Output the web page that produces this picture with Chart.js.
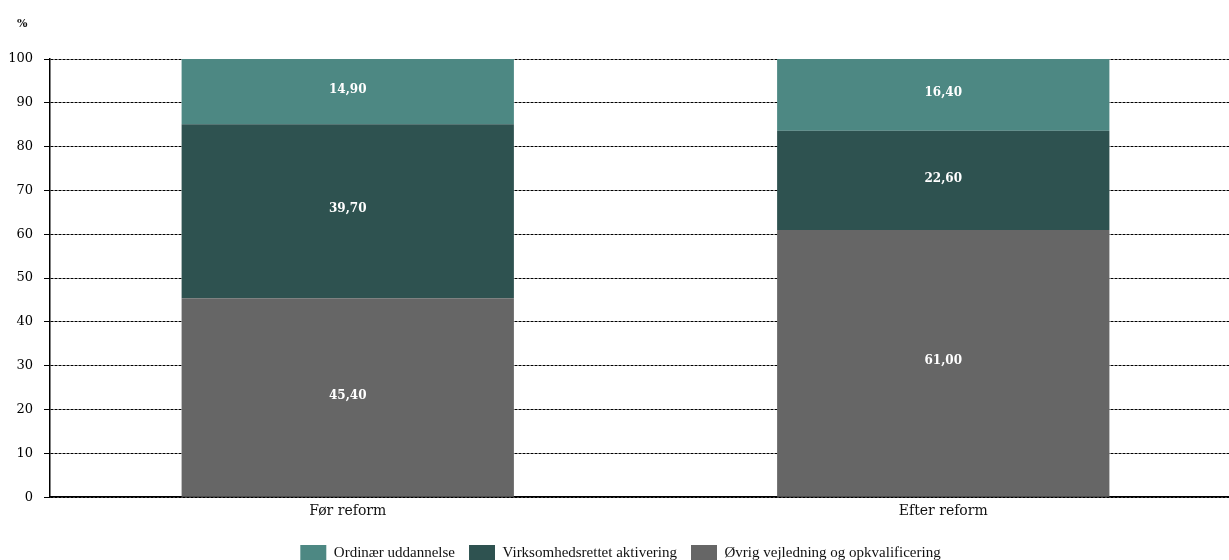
<!DOCTYPE html>
<html>
<head>
<meta charset="utf-8">
<script src="https://cdn.jsdelivr.net/npm/chart.js@4/dist/chart.umd.min.js"></script>
<style>
  html, body { margin: 0; padding: 0; background: #fff; overflow: hidden; }
  #wrap { width: 1241px; height: 560px; }
</style>
</head>
<body>
<div id="wrap"><canvas id="reformChart"></canvas></div>
<script>
const categories = ['Før reform', 'Efter reform'];
const ordinaer = [14.9, 16.4];
const virksomhed = [39.7, 22.6];
const oevrig = [45.4, 61.0];
const yTicks = [0, 10, 20, 30, 40, 50, 60, 70, 80, 90, 100];

const serif = "'DejaVu Serif', 'Liberation Serif', serif";
const legendSerif = "'Liberation Serif', 'DejaVu Serif', serif";

// white value labels in the middle of each segment, plus the unit over the y axis
const segmentLabels = {
  id: 'segmentLabels',
  afterDatasetsDraw(chart) {
    const ctx = chart.ctx;
    ctx.save();
    ctx.fillStyle = '#ffffff';
    ctx.font = 'bold 12px ' + serif;
    ctx.textAlign = 'center';
    ctx.textBaseline = 'middle';
    chart.data.datasets.forEach((ds, i) => {
      chart.getDatasetMeta(i).data.forEach((bar, j) => {
        const p = bar.getProps(['x', 'y', 'base'], true);
        ctx.fillText(ds.data[j].toFixed(2).replace('.', ','), p.x, (p.y + p.base) / 2 - 2);
      });
    });
    ctx.fillStyle = '#111';
    ctx.font = 'bold 11px ' + serif;
    ctx.textAlign = 'left';
    ctx.fillText('%', chart.chartArea.left - 33, chart.chartArea.top - 35);
    ctx.restore();
  }
};

new Chart(document.getElementById('reformChart').getContext('2d'), {
  type: 'bar',
  data: {
    labels: categories,
    datasets: [
      { label: 'Øvrig vejledning og opkvalificering', data: oevrig, backgroundColor: '#666666' },
      { label: 'Virksomhedsrettet aktivering', data: virksomhed, backgroundColor: '#2e5250' },
      { label: 'Ordinær uddannelse', data: ordinaer, backgroundColor: '#4d8883' }
    ]
  },
  options: {
    responsive: true,
    maintainAspectRatio: false,
    animation: false,
    datasets: { bar: { barPercentage: 0.558, categoryPercentage: 1 } },
    layout: { padding: { left: 0, right: 0, top: 59, bottom: -11 } },
    scales: {
      x: {
        stacked: true,
        afterFit: axis => { axis.height += 5; },
        grid: { display: false, drawTicks: false },
        border: { color: '#000', width: 1.5 },
        ticks: { color: '#111', font: { family: serif, size: 14 }, padding: 6 }
      },
      y: {
        stacked: true,
        min: 0,
        max: 100,
        afterBuildTicks: axis => { axis.ticks = yTicks.map(v => ({ value: v })); },
        afterFit: axis => { axis.width = 50; },
        grid: { color: '#000', lineWidth: 1, tickLength: 6 },
        border: { color: '#000', width: 1.5, dash: [3, 1] },
        ticks: { color: '#000', font: { family: serif, size: 13 }, padding: 11 }
      }
    },
    plugins: {
      legend: {
        position: 'bottom',
        reverse: true,
        labels: {
          color: '#111',
          font: { family: legendSerif, size: 15 },
          boxWidth: 26,
          boxHeight: 16,
          padding: 14
        }
      },
      tooltip: { enabled: false }
    }
  },
  plugins: [segmentLabels]
});
</script>
</body>
</html>
